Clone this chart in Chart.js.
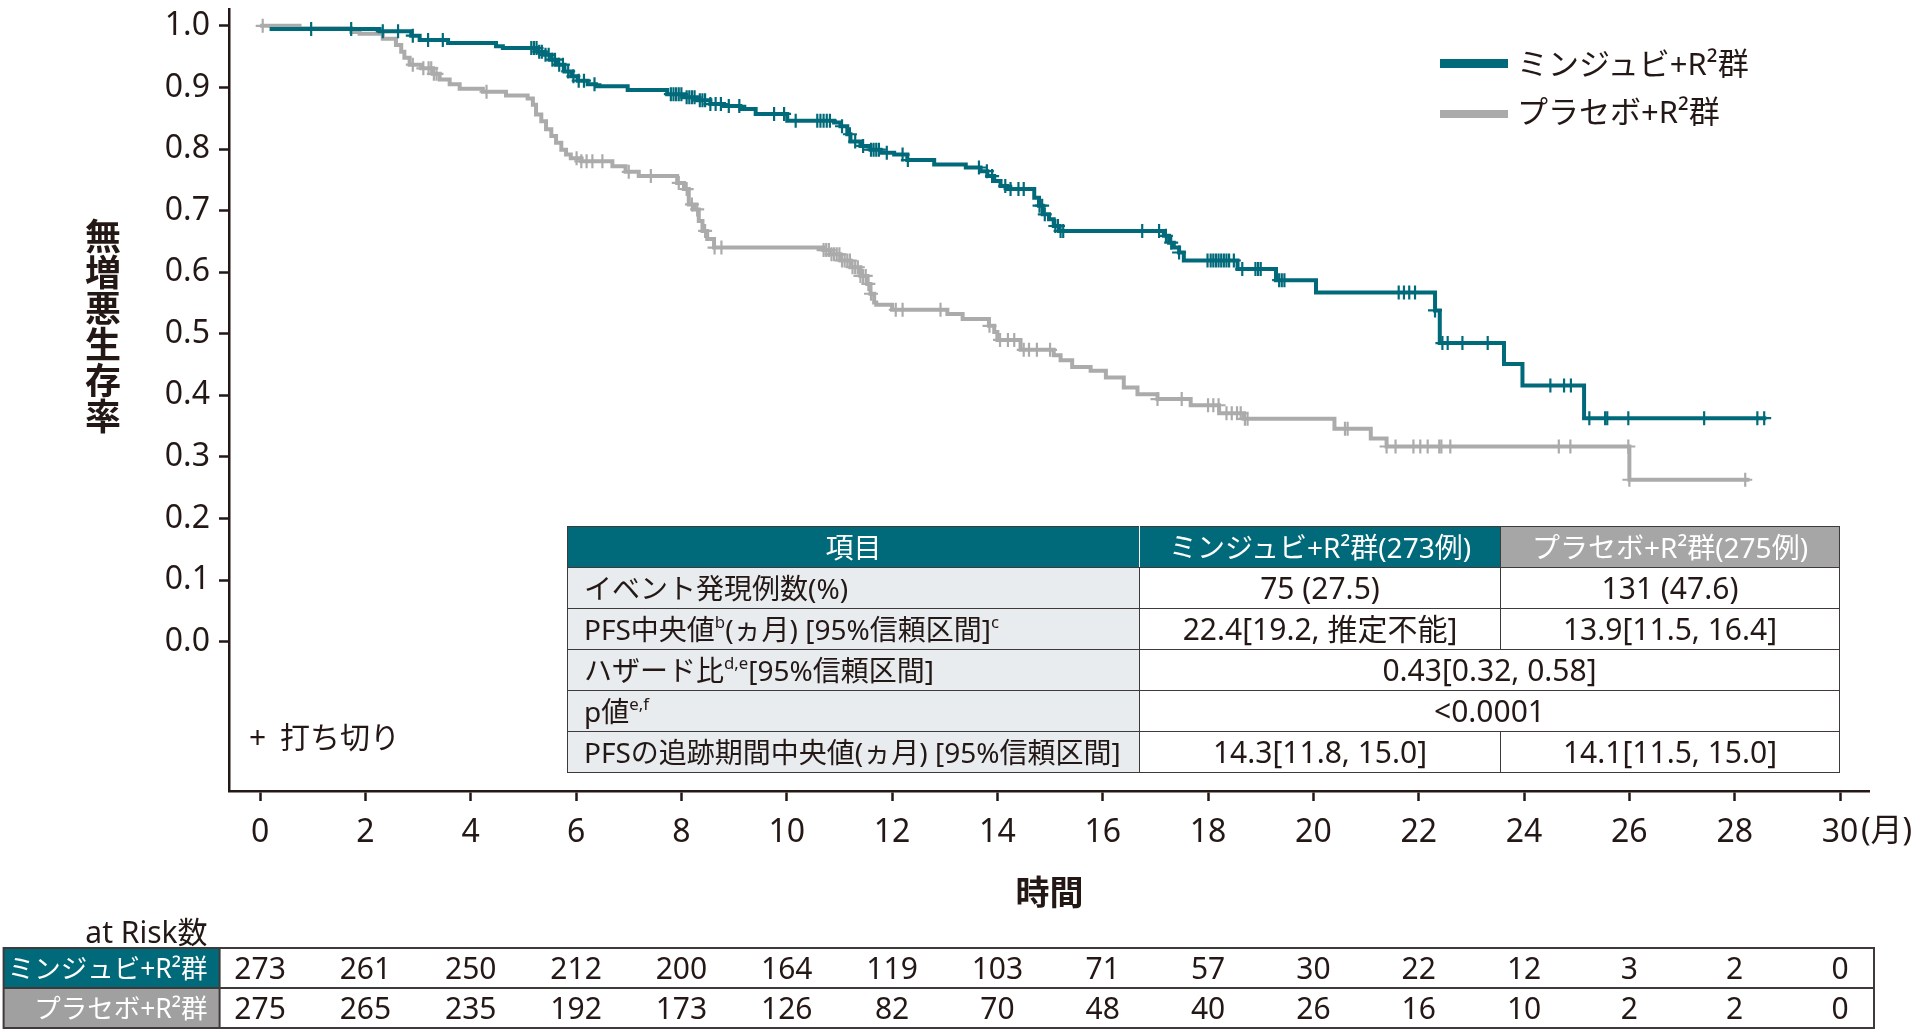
<!DOCTYPE html>
<html><head><meta charset="utf-8">
<script src="https://cdn.jsdelivr.net/npm/chart.js@4.4.1/dist/chart.umd.min.js"></script>
<style>
html,body{margin:0;padding:0;background:#fff;width:1920px;height:1032px;overflow:hidden;}
body{position:relative;font-family:"Noto Sans","Noto Sans CJK JP",sans-serif;color:#231815;}
#c{position:absolute;left:0;top:0;}
.abs{position:absolute;white-space:nowrap;line-height:1;}
#ytitle{left:85px;top:218px;font-size:36px;font-weight:700;writing-mode:vertical-rl;text-orientation:upright;font-family:"Noto Sans CJK JP",sans-serif;}
#xtitle{left:1049.5px;top:874px;transform:translateX(-50%);font-size:34px;font-weight:700;font-family:"Noto Sans CJK JP",sans-serif;}
#month{left:1861px;top:813px;font-size:32px;}
.lgline{position:absolute;width:68px;height:8.4px;left:1440px;}
.lgtext{font-size:31px;left:1517px;}
#censor1{left:249px;top:722px;font-size:30px;}
#censor2{left:280px;top:722px;font-size:30px;}
#sum{position:absolute;left:567px;top:526px;width:1272px;border-collapse:collapse;table-layout:fixed;font-size:28px;}
#sum td,#sum th{border:1.5px solid #3e3a39;height:40px;padding:0;text-align:center;font-weight:400;line-height:1;white-space:nowrap;}
#sum td.v{font-size:30px;}
#sum th{background:#006A7A;color:#fff;}
#sum th.g{background:#A6A6A6;}
#sum th.f{border-right:1.5px solid #fff;}
#sum td.lab{background:#E8ECEF;text-align:left;padding-left:16px;}
#sum sup{font-size:0.6em;vertical-align:0.7em;line-height:0;}
</style></head><body>
<canvas id="c" width="1920" height="1032"></canvas>
<div class="abs" id="ytitle">無増悪生存率</div>
<div class="abs" id="xtitle">時間</div>
<div class="abs" id="month">(月)</div>
<div class="lgline" style="top:59.3px;background:#006A7A"></div>
<div class="lgline" style="top:110px;background:#ABABAB"></div>
<div class="abs lgtext" id="lg1" style="top:48px"></div>
<div class="abs lgtext" id="lg2" style="top:96px"></div>
<div class="abs" id="censor1">+</div>
<div class="abs" id="censor2">打ち切り</div>
<table id="sum"><colgroup><col style="width:572px"><col style="width:361px"><col style="width:339px"></colgroup><tbody id="sumBody"></tbody></table>
<script>
// ---------- data ----------
const groupNames = ['ミンジュビ+R²群', 'プラセボ+R²群'];
const monthTicks = [0,2,4,6,8,10,12,14,16,18,20,22,24,26,28,30];
const survTicks = [0,0.1,0.2,0.3,0.4,0.5,0.6,0.7,0.8,0.9,1.0];

const mintTimes = [0.18,2.27,2.87,3.03,3.57,4.48,4.61,5.27,5.40,5.53,5.65,5.78,5.91,6.03,6.22,6.38,6.98,7.73,8.05,8.30,8.55,8.81,9.12,9.41,10.01,10.90,11.02,11.15,11.21,11.40,11.59,11.78,12.04,12.29,12.80,13.40,13.68,13.81,13.94,14.06,14.19,14.70,14.79,14.86,14.98,15.07,15.17,17.16,17.26,17.35,17.45,17.54,18.56,19.29,20.05,22.31,22.40,23.62,23.97,25.14,28.60];
const mintSurv  = [0.995,0.991,0.984,0.977,0.972,0.967,0.964,0.958,0.953,0.945,0.937,0.926,0.918,0.911,0.905,0.902,0.896,0.889,0.884,0.879,0.873,0.870,0.865,0.857,0.846,0.843,0.837,0.824,0.812,0.805,0.799,0.794,0.791,0.782,0.775,0.770,0.764,0.756,0.748,0.740,0.735,0.721,0.708,0.694,0.686,0.675,0.667,0.659,0.648,0.640,0.632,0.619,0.605,0.587,0.567,0.538,0.485,0.451,0.416,0.363,0.363];
const mintCensor = [0.97,1.73,2.33,2.62,2.9,3.19,3.47,5.15,5.2,5.25,5.3,5.35,5.42,5.48,5.55,5.6,5.68,5.75,5.85,5.95,6.05,6.15,6.35,7.8,7.85,7.9,7.95,8.0,8.1,8.15,8.2,8.25,8.35,8.4,8.45,8.55,8.65,8.75,8.9,9.1,9.76,9.95,10.17,10.58,10.64,10.7,10.76,10.82,11.05,11.2,11.3,11.45,11.6,11.65,11.7,11.75,11.9,12.2,12.3,13.65,13.8,13.9,14.15,14.25,14.4,14.5,14.8,14.85,14.9,15.1,15.15,15.2,15.25,16.75,17.07,17.2,17.3,17.45,17.99,18.05,18.1,18.15,18.2,18.25,18.3,18.35,18.4,18.49,18.65,18.9,18.95,19.0,19.35,19.4,19.45,21.62,21.72,21.82,21.93,22.31,22.45,22.55,22.83,23.31,24.5,24.76,24.89,25.24,25.54,25.58,25.98,27.42,28.43,28.56];

const placTimes = [0,0.75,1.73,1.89,2.33,2.58,2.68,2.74,2.84,3.06,3.28,3.41,3.60,3.79,4.23,4.67,5.08,5.18,5.24,5.34,5.43,5.53,5.62,5.72,5.81,5.90,6.10,6.69,6.94,7.19,7.92,8.05,8.14,8.24,8.33,8.40,8.49,8.62,10.70,10.83,11.02,11.21,11.40,11.53,11.59,11.66,11.70,12.00,13.05,13.34,13.84,13.94,14.00,14.44,15.07,15.20,15.42,15.77,16.06,16.40,16.66,17.04,17.67,18.21,18.68,20.40,21.09,21.39,26.00,28.28];
const placSurv  = [1.000,0.996,0.990,0.987,0.979,0.969,0.958,0.948,0.937,0.931,0.922,0.913,0.905,0.898,0.893,0.887,0.882,0.872,0.856,0.845,0.832,0.821,0.810,0.799,0.791,0.785,0.780,0.772,0.763,0.756,0.745,0.735,0.710,0.702,0.683,0.667,0.654,0.640,0.636,0.629,0.619,0.608,0.594,0.581,0.565,0.551,0.547,0.539,0.532,0.524,0.513,0.503,0.490,0.474,0.465,0.457,0.446,0.440,0.429,0.413,0.402,0.394,0.384,0.371,0.362,0.346,0.330,0.317,0.263,0.263];
const placCensor = [0.05,2.9,3.1,3.2,3.25,3.3,3.35,4.3,6.01,6.1,6.2,6.31,6.5,7.0,7.42,7.95,8.1,8.2,8.3,8.45,8.63,8.76,10.7,10.75,10.8,10.85,10.9,10.95,11.0,11.05,11.1,11.15,11.2,11.25,11.3,11.35,11.4,11.45,11.5,11.55,11.6,12.07,12.2,12.92,13.85,14.05,14.2,14.32,14.5,14.6,14.75,15.0,17.04,17.5,18.0,18.1,18.2,18.35,18.45,18.55,18.62,18.7,18.75,20.6,20.65,21.39,21.56,21.9,22.03,22.17,22.39,22.43,22.6,24.66,24.88,25.98,26.0,28.2];

const atRiskMonths = [0,2,4,6,8,10,12,14,16,18,20,22,24,26,28,30];
const atRiskMint = [273,261,250,212,200,164,119,103,71,57,30,22,12,3,2,0];
const atRiskPlac = [275,265,235,192,173,126,82,70,48,40,26,16,10,2,2,0];

const tableHeader = ['項目', 'ミンジュビ+R²群(273例)', 'プラセボ+R²群(275例)'];
const tableLabels = ['イベント発現例数(%)', 'PFS中央値<sup>b</sup>(ヵ月) [95%信頼区間]<sup>c</sup>', 'ハザード比<sup>d,e</sup>[95%信頼区間]', 'p値<sup>e,f</sup>', 'PFSの追跡期間中央値(ヵ月) [95%信頼区間]'];
const tableMint = ['75 (27.5)', '22.4[19.2, 推定不能]', '0.43[0.32, 0.58]', '<0.0001', '14.3[11.8, 15.0]'];
const tablePlac = ['131 (47.6)', '13.9[11.5, 16.4]', null, null, '14.1[11.5, 15.0]'];

// ---------- styles ----------
const TEAL = '#006A7A', GRAY = '#ABABAB', GRAYCELL = '#A0A0A0', INK = '#231815';
const FAM = '"Noto Sans","Noto Sans CJK JP",sans-serif';

document.getElementById('lg1').textContent = groupNames[0];
document.getElementById('lg2').textContent = groupNames[1];
(function(){
  const tb = document.getElementById('sumBody');
  let h = '<tr><th class="f">'+tableHeader[0]+'</th><th>'+tableHeader[1]+'</th><th class="g">'+tableHeader[2]+'</th></tr>';
  const esc = s => s.replace(/</g,'&lt;');
  tableLabels.forEach((lab,i)=>{
    h += '<tr><td class="lab">'+lab+'</td>';
    if (tablePlac[i] === null) h += '<td class="v" colspan="2">'+esc(tableMint[i])+'</td>';
    else h += '<td class="v">'+esc(tableMint[i])+'</td><td class="v">'+esc(tablePlac[i])+'</td>';
    h += '</tr>';
  });
  tb.innerHTML = h;
})();

function stepAt(times, surv, t){
  let s = surv[0];
  for (let i=0;i<times.length;i++){ if (times[i] <= t) s = surv[i]; }
  return s;
}
const toPts = (ts, ss) => ts.map((t,i)=>({x:t, y:ss[i]}));
const censPts = (cs, ts, ss) => cs.map(t=>({x:t, y:stepAt(ts, ss, t)}));

const atRiskPlugin = {
  id:'atRisk',
  afterDraw(chart){
    const ctx = chart.ctx, xs = chart.scales.x;
    const L = 3.6, R = 1874, T = 948, M = 988, B = 1028, LC = 219.6;
    ctx.save();
    ctx.fillStyle = TEAL; ctx.fillRect(L, T, LC-L, M-T);
    ctx.fillStyle = GRAYCELL; ctx.fillRect(L, M, LC-L, B-M);
    ctx.strokeStyle = '#3e3a39'; ctx.lineWidth = 2;
    ctx.strokeRect(L, T, R-L, B-T);
    ctx.beginPath(); ctx.moveTo(L, M); ctx.lineTo(R, M); ctx.moveTo(LC, T); ctx.lineTo(LC, B); ctx.stroke();
    ctx.textBaseline = 'alphabetic';
    ctx.textAlign = 'right';
    ctx.fillStyle = INK; ctx.font = '30px '+FAM;
    ctx.fillText('at Risk数', 207.6, 943);
    ctx.fillStyle = '#fff'; ctx.font = '26.5px '+FAM;
    ctx.fillText(groupNames[0], 207.6, 978);
    ctx.fillText(groupNames[1], 207.6, 1018);
    ctx.textAlign = 'center'; ctx.fillStyle = INK; ctx.font = '30px '+FAM;
    atRiskMonths.forEach((m,i)=>{
      const x = xs.getPixelForValue(m);
      ctx.fillText(String(atRiskMint[i]), x, 979);
      ctx.fillText(String(atRiskPlac[i]), x, 1019);
    });
    ctx.restore();
  }
};

new Chart(document.getElementById('c').getContext('2d'), {
  type:'line',
  data:{ datasets:[
    {data: toPts(mintTimes, mintSurv), stepped:true, borderColor:TEAL, borderWidth:4, pointRadius:0, fill:false, borderJoinStyle:'miter', borderCapStyle:'butt'},
    {data: censPts(mintCensor, mintTimes, mintSurv), showLine:false, pointStyle:'cross', pointRadius:7, pointBorderWidth:2.2, pointBorderColor:TEAL, borderColor:TEAL},
    {data: toPts(placTimes, placSurv), stepped:true, borderColor:GRAY, borderWidth:4, pointRadius:0, fill:false, borderJoinStyle:'miter', borderCapStyle:'butt'},
    {data: censPts(placCensor, placTimes, placSurv), showLine:false, pointStyle:'cross', pointRadius:7, pointBorderWidth:2.2, pointBorderColor:GRAY, borderColor:GRAY}
  ]},
  options:{
    responsive:false, animation:false, devicePixelRatio:1,
    layout:{padding:{left:0, top:5, right:51, bottom:0}},
    plugins:{legend:{display:false}, tooltip:{enabled:false}},
    events:[],
    scales:{
      x:{type:'linear', min:-0.59, max:30.55,
        afterBuildTicks: s => { s.ticks = monthTicks.map(v=>({value:v})); },
        afterFit: s => { s.height = 241; s.paddingLeft = 0; s.paddingRight = 0; },
        ticks:{autoSkip:false, maxRotation:0, minRotation:0, padding:13, color:INK, font:{family:FAM, size:32}, callback: v => String(v)},
        grid:{drawOnChartArea:false, drawTicks:true, tickLength:10, tickWidth:2.5, tickColor:INK},
        border:{display:true, color:INK, width:2.5}
      },
      y:{type:'linear', min:-0.2423, max:1.027,
        afterBuildTicks: s => { s.ticks = survTicks.map(v=>({value:v})); },
        afterFit: s => { s.width = 229; s.paddingTop = 0; s.paddingBottom = 0; },
        ticks:{autoSkip:false, padding:9, color:INK, font:{family:FAM, size:32}, callback: v => Number(v).toFixed(1)},
        grid:{drawOnChartArea:false, drawTicks:true, tickLength:10, tickWidth:2.5, tickColor:INK},
        border:{display:true, color:INK, width:2.5}
      }
    }
  },
  plugins:[atRiskPlugin]
});
</script>
</body></html>
